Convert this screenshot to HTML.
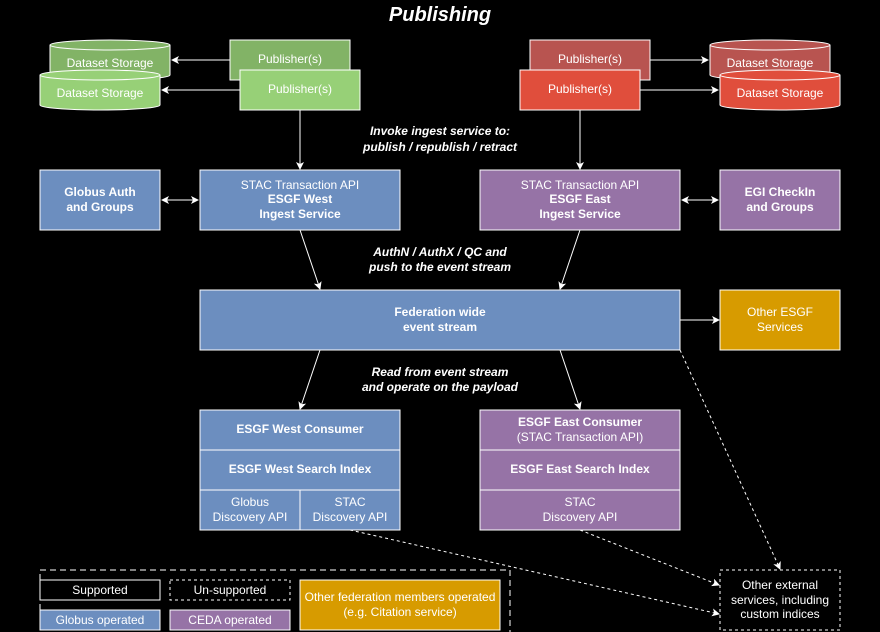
<!DOCTYPE html>
<html><head><meta charset="utf-8"><style>body{margin:0;background:#000}svg{display:block}text{font-family:"Liberation Sans",sans-serif;fill:#fff}</style></head><body>
<svg width="880" height="632" viewBox="0 0 880 632" xmlns="http://www.w3.org/2000/svg">
<defs><marker id="a" markerWidth="8" markerHeight="8" refX="7" refY="4" orient="auto" markerUnits="userSpaceOnUse"><path d="M0,0 L8,4 L0,8 L2,4z" fill="#fff"/></marker>
<marker id="s" markerWidth="8" markerHeight="8" refX="1" refY="4" orient="auto" markerUnits="userSpaceOnUse"><path d="M8,0 L0,4 L8,8 L6,4z" fill="#fff"/></marker></defs>
<rect width="880" height="632" fill="#000"/>
<text x="440" y="21" text-anchor="middle" font-size="20" font-weight="bold" font-style="italic">Publishing</text>
<g stroke="#fff" stroke-width="1" font-size="12">
<!-- cylinders -->
<g><path d="M50,45 v30 a60,5 0 0 0 120,0 v-30" fill="#82b366"/><ellipse cx="110" cy="45" rx="60" ry="5" fill="#82b366"/></g>
<g><path d="M40,75 v30 a60,5 0 0 0 120,0 v-30" fill="#97d077"/><ellipse cx="100" cy="75" rx="60" ry="5" fill="#97d077"/></g>
<g><path d="M710,45 v30 a60,5 0 0 0 120,0 v-30" fill="#b85450"/><ellipse cx="770" cy="45" rx="60" ry="5" fill="#b85450"/></g>
<g><path d="M720,75 v30 a60,5 0 0 0 120,0 v-30" fill="#e04e3c"/><ellipse cx="780" cy="75" rx="60" ry="5" fill="#e04e3c"/></g>
<rect x="230" y="40" width="120" height="40" fill="#82b366"/>
<rect x="240" y="70" width="120" height="40" fill="#97d077"/>
<rect x="530" y="40" width="120" height="40" fill="#b85450"/>
<rect x="520" y="70" width="120" height="40" fill="#e04e3c"/>
<rect x="40" y="170" width="120" height="60" fill="#6c8ebf"/>
<rect x="200" y="170" width="200" height="60" fill="#6c8ebf"/>
<rect x="480" y="170" width="200" height="60" fill="#9673a6"/>
<rect x="720" y="170" width="120" height="60" fill="#9673a6"/>
<rect x="200" y="290" width="480" height="60" fill="#6c8ebf"/>
<rect x="720" y="290" width="120" height="60" fill="#d79b00"/>
<rect x="200" y="410" width="200" height="40" fill="#6c8ebf"/>
<rect x="200" y="450" width="200" height="40" fill="#6c8ebf"/>
<rect x="200" y="490" width="100" height="40" fill="#6c8ebf"/>
<rect x="300" y="490" width="100" height="40" fill="#6c8ebf"/>
<rect x="480" y="410" width="200" height="40" fill="#9673a6"/>
<rect x="480" y="450" width="200" height="40" fill="#9673a6"/>
<rect x="480" y="490" width="200" height="40" fill="#9673a6"/>
<rect x="720" y="570" width="120" height="60" fill="none" stroke-dasharray="3,3"/>
<rect x="40" y="570" width="470" height="70" fill="none" stroke-dasharray="6,4"/>
<rect x="40" y="580" width="120" height="20" fill="#000"/>
<rect x="170" y="580" width="120" height="20" fill="#000" stroke-dasharray="3,3"/>
<rect x="40" y="610" width="120" height="20" fill="#6c8ebf"/>
<rect x="170" y="610" width="120" height="20" fill="#9673a6"/>
<rect x="300" y="580" width="200" height="50" fill="#d79b00"/>
<!-- arrows -->
<line x1="230" y1="60" x2="172" y2="60" marker-end="url(#a)"/>
<line x1="240" y1="90" x2="162" y2="90" marker-end="url(#a)"/>
<line x1="650" y1="60" x2="708" y2="60" marker-end="url(#a)"/>
<line x1="640" y1="90" x2="718" y2="90" marker-end="url(#a)"/>
<line x1="300" y1="110" x2="300" y2="169" marker-end="url(#a)"/>
<line x1="580" y1="110" x2="580" y2="169" marker-end="url(#a)"/>
<line x1="162" y1="200" x2="198" y2="200" marker-start="url(#s)" marker-end="url(#a)"/>
<line x1="682" y1="200" x2="718" y2="200" marker-start="url(#s)" marker-end="url(#a)"/>
<line x1="300" y1="230" x2="320" y2="289" marker-end="url(#a)"/>
<line x1="580" y1="230" x2="560" y2="289" marker-end="url(#a)"/>
<line x1="320" y1="350" x2="300" y2="409" marker-end="url(#a)"/>
<line x1="560" y1="350" x2="580" y2="409" marker-end="url(#a)"/>
<line x1="680" y1="320" x2="719" y2="320" marker-end="url(#a)"/>
<line x1="680" y1="350" x2="780" y2="569" stroke-dasharray="3,3" marker-end="url(#a)"/>
<line x1="350" y1="530" x2="719" y2="614" stroke-dasharray="3,3" marker-end="url(#a)"/>
<line x1="580" y1="530" x2="719" y2="585" stroke-dasharray="3,3" marker-end="url(#a)"/>
</g>
<g font-size="12" text-anchor="middle">
<text x="110" y="67">Dataset Storage</text><text x="100" y="97">Dataset Storage</text>
<text x="770" y="67">Dataset Storage</text><text x="780" y="97">Dataset Storage</text>
<text x="290" y="63">Publisher(s)</text><text x="300" y="93">Publisher(s)</text>
<text x="590" y="63">Publisher(s)</text><text x="580" y="93">Publisher(s)</text>
<text x="100" y="196" font-weight="bold">Globus Auth</text><text x="100" y="211" font-weight="bold">and Groups</text>
<text x="780" y="196" font-weight="bold">EGI CheckIn</text><text x="780" y="211" font-weight="bold">and Groups</text>
<text x="300" y="189">STAC Transaction API</text><text x="300" y="203" font-weight="bold">ESGF West</text><text x="300" y="218" font-weight="bold">Ingest Service</text>
<text x="580" y="189">STAC Transaction API</text><text x="580" y="203" font-weight="bold">ESGF East</text><text x="580" y="218" font-weight="bold">Ingest Service</text>
<text x="440" y="316" font-weight="bold">Federation wide</text><text x="440" y="331" font-weight="bold">event stream</text>
<text x="780" y="316">Other ESGF</text><text x="780" y="331">Services</text>
<text x="300" y="433" font-weight="bold">ESGF West Consumer</text>
<text x="300" y="473" font-weight="bold">ESGF West Search Index</text>
<text x="250" y="506">Globus</text><text x="250" y="521">Discovery API</text>
<text x="350" y="506">STAC</text><text x="350" y="521">Discovery API</text>
<text x="580" y="426" font-weight="bold">ESGF East Consumer</text><text x="580" y="441">(STAC Transaction API)</text>
<text x="580" y="473" font-weight="bold">ESGF East Search Index</text>
<text x="580" y="506">STAC</text><text x="580" y="521">Discovery API</text>
<text x="780" y="589">Other external</text><text x="780" y="604">services, including</text><text x="780" y="618">custom indices</text>
<text x="100" y="594">Supported</text><text x="230" y="594">Un-supported</text>
<text x="100" y="624">Globus operated</text><text x="230" y="624">CEDA operated</text>
<text x="400" y="601">Other federation members operated</text><text x="400" y="616">(e.g. Citation service)</text>
<g font-weight="bold" font-style="italic">
<text x="440" y="135">Invoke ingest service to:</text><text x="440" y="151">publish / republish / retract</text>
<text x="440" y="256">AuthN / AuthX / QC and</text><text x="440" y="271">push to the event stream</text>
<text x="440" y="376">Read from event stream</text><text x="440" y="391">and operate on the payload</text>
</g></g>
</svg></body></html>
